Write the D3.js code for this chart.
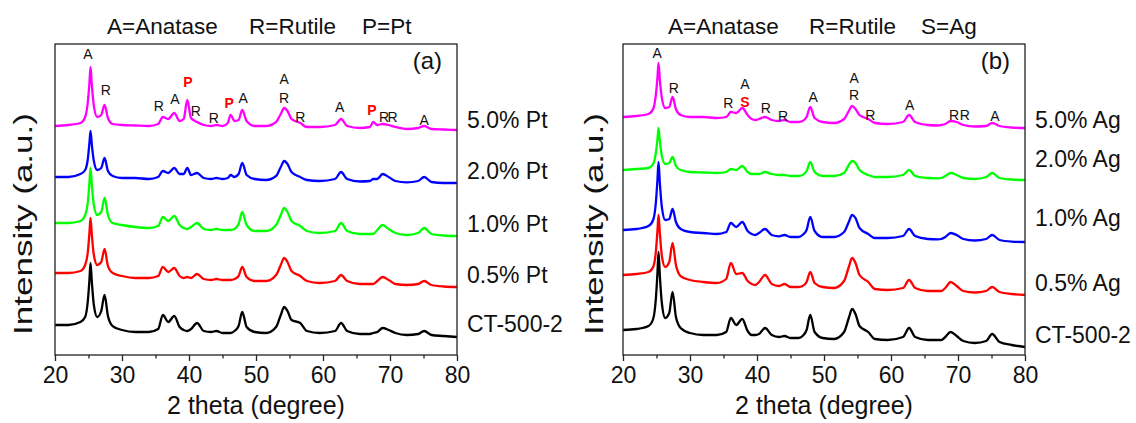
<!DOCTYPE html>
<html>
<head>
<meta charset="utf-8">
<script src="https://cdn.jsdelivr.net/npm/d3@7"></script>
<style>
  html, body { margin: 0; padding: 0; background: #ffffff; }
  svg { display: block; font-family: Arial, "Liberation Sans", Helvetica, sans-serif; }
</style>
</head>
<body>
<svg id="chart" width="1136" height="423"></svg>
<script>
// ---- XRD patterns: 2θ grid shared by every scan ----
const twoTheta = [20,22,23.8,24.5,24.9,25.15,25.3,25.5,25.8,26.3,26.9,27.4,27.9,28.6,30,32,34,35.4,36.1,36.9,37.8,38.6,39.2,39.75,40.3,41.2,42.2,43.3,44.1,45,45.8,46.2,46.8,47.4,47.95,48.6,49.8,51.5,53,53.7,54.2,54.7,55.3,56.6,57.6,59.5,61.8,62.7,63.6,65.5,67,67.5,68.1,68.9,69.8,70.8,72.5,74.2,75.1,76.2,78,80];

// Stacked intensities (a.u.), Pt series
const pt50 = [2290,2300,2320,2380,2530,2730,2880,2700,2490,2380,2400,2500,2370,2310,2300,2295,2290,2310,2380,2360,2420,2340,2360,2550,2370,2330,2300,2290,2300,2290,2320,2400,2340,2350,2450,2340,2290,2290,2330,2410,2470,2440,2360,2320,2280,2280,2300,2360,2290,2270,2280,2330,2300,2310,2300,2280,2260,2270,2290,2260,2255,2250];
const pt20 = [1780,1780,1810,1850,1960,2130,2240,2100,1940,1850,1870,1970,1840,1790,1770,1770,1760,1780,1840,1820,1870,1810,1810,1870,1800,1820,1770,1760,1770,1760,1770,1800,1780,1810,1920,1800,1760,1750,1790,1880,1940,1910,1830,1780,1750,1740,1760,1830,1760,1735,1740,1760,1760,1810,1780,1740,1727,1740,1780,1730,1720,1720];
const pt10 = [1320,1320,1340,1400,1530,1730,1870,1700,1500,1400,1430,1570,1400,1320,1300,1280,1270,1290,1380,1340,1390,1300,1270,1260,1280,1320,1260,1250,1260,1250,1250,1250,1260,1310,1430,1300,1240,1240,1300,1400,1470,1430,1340,1290,1240,1220,1240,1320,1240,1210,1210,1210,1250,1300,1260,1220,1200,1220,1270,1210,1195,1190];
const pt05 = [820,820,840,900,1030,1230,1370,1200,1000,900,930,1060,890,820,790,770,770,790,880,830,870,790,770,780,770,810,760,750,760,750,750,750,760,790,880,780,740,740,800,900,970,930,840,790,740,720,740,800,740,710,710,710,740,780,750,710,700,710,740,700,685,680];
const ctA  = [300,300,330,380,540,760,920,730,500,380,440,600,390,290,250,230,230,260,400,330,390,280,250,240,260,320,240,230,240,220,220,220,240,290,430,280,230,220,280,400,480,440,350,320,240,220,240,320,240,210,210,220,230,270,250,220,200,210,240,200,190,180];

// Stacked intensities (a.u.), Ag series
const ag50 = [2380,2390,2410,2460,2600,2780,2920,2750,2570,2470,2480,2580,2460,2400,2380,2380,2370,2380,2430,2420,2470,2400,2360,2350,2360,2380,2350,2340,2350,2330,2330,2330,2340,2380,2480,2370,2330,2320,2360,2440,2490,2460,2400,2360,2320,2310,2330,2400,2330,2300,2295,2300,2310,2340,2330,2300,2285,2290,2320,2290,2275,2270];
const ag20 = [1850,1860,1870,1910,2020,2160,2270,2140,1990,1910,1920,1980,1890,1850,1830,1825,1820,1830,1860,1850,1890,1830,1810,1810,1810,1830,1810,1800,1800,1790,1790,1790,1800,1840,1930,1830,1790,1790,1820,1900,1940,1920,1850,1800,1780,1780,1800,1850,1790,1770,1766,1770,1790,1820,1800,1770,1760,1780,1820,1770,1755,1750];
const ag10 = [1250,1260,1290,1350,1520,1760,1930,1720,1480,1350,1360,1460,1330,1260,1230,1220,1210,1230,1320,1280,1330,1240,1210,1200,1220,1260,1200,1187,1200,1180,1180,1180,1200,1250,1380,1240,1180,1180,1230,1330,1400,1370,1270,1210,1170,1170,1190,1260,1190,1160,1156,1160,1180,1220,1200,1160,1145,1160,1200,1150,1134,1130];
const ag05 = [800,810,830,880,1030,1250,1400,1220,990,880,930,1120,900,790,750,730,720,760,920,810,820,740,710,700,730,800,710,690,710,680,680,680,690,730,830,720,680,670,740,880,970,920,800,730,660,650,670,750,670,640,640,640,670,730,690,640,625,640,680,630,610,600];
const ctB  = [250,260,290,360,560,830,1030,790,520,370,420,630,380,270,220,200,200,230,370,300,360,240,200,200,210,270,200,180,190,170,170,170,190,250,400,230,170,160,230,370,460,410,290,230,160,150,180,270,180,150,150,150,180,230,190,140,120,140,210,130,100,80];

const namesPt = ["5.0% Pt", "2.0% Pt", "1.0% Pt", "0.5% Pt", "CT-500-2"];
const namesAg = ["5.0% Ag", "2.0% Ag", "1.0% Ag", "0.5% Ag", "CT-500-2"];

// Phase markers: [symbol, 2θ, intensity level]
const peaksPt = [["A",24.9,2960],["R",27.6,2600],["R",35.5,2440],["A",37.9,2510],["P",39.85,2680],["R",41.0,2390],["R",43.7,2320],["P",46.0,2470],["A",48.1,2520],["A",54.2,2710],["R",54.2,2520],["R",56.6,2330],["A",62.5,2430],["P",67.3,2400],["R",69.1,2330],["R",70.4,2330],["A",75.1,2300]];
const peaksAg = [["A",25.1,2970],["R",27.6,2620],["R",35.7,2470],["A",38.2,2660],["S",38.2,2480],["R",41.3,2420],["R",43.9,2340],["A",48.4,2530],["A",54.5,2720],["R",54.5,2550],["R",56.9,2350],["A",62.8,2450],["R",69.4,2350],["R",71.0,2350],["A",75.5,2340]];
const metalSymbols = ["P", "S"];

const thetaTicks = [20, 30, 40, 50, 60, 70, 80];
const thetaMinorTicks = [25, 35, 45, 55, 65, 75];
const thetaRange = [20, 80];
const intensityRange = [0, 3110];

// ---- layout ----
const svg = d3.select("#chart");
const frameTop = 44, frameBottom = 355;

const panels = [
  {
    left: 55, right: 457, tag: "(a)", titleGap: 23,
    header: [["A=Anatase", 107], ["R=Rutile", 249], ["P=Pt", 362]],
    names: namesPt,
    series: [pt50, pt20, pt10, pt05, ctA],
    colors: ["#ff00ff", "#0000ff", "#00ff00", "#ff0000", "#000000"],
    legendY: [128, 179, 232, 283, 332],
    peaks: peaksPt
  },
  {
    left: 623, right: 1025, tag: "(b)", titleGap: 20,
    header: [["A=Anatase", 668], ["R=Rutile", 809], ["S=Ag", 921]],
    names: namesAg,
    series: [ag50, ag20, ag10, ag05, ctB],
    colors: ["#ff00ff", "#00ff00", "#0000ff", "#ff0000", "#000000"],
    legendY: [128, 167, 226, 291, 343],
    peaks: peaksAg
  }
];

panels.forEach(p => {
  const g = svg.append("g");
  const x = d3.scaleLinear().domain(thetaRange).range([p.left, p.right]);
  const y = d3.scaleLinear().domain(intensityRange).range([frameBottom, frameTop]);

  // patterns
  const line = d3.line()
    .x((d, i) => x(twoTheta[i]))
    .y(d => y(d))
    .curve(d3.curveMonotoneX);

  p.series.forEach((vals, k) => {
    g.append("path")
      .datum(vals)
      .attr("fill", "none")
      .attr("stroke", p.colors[k])
      .attr("stroke-width", 2.3)
      .attr("stroke-linejoin", "round")
      .attr("d", line);
  });

  // frame
  g.append("rect")
    .attr("x", p.left).attr("y", frameTop)
    .attr("width", p.right - p.left).attr("height", frameBottom - frameTop)
    .attr("fill", "none").attr("stroke", "#222").attr("stroke-width", 1.3);

  // bottom axis: major + minor ticks
  const major = d3.axisBottom(x).tickValues(thetaTicks).tickSize(6).tickPadding(6).tickFormat(d3.format("d"));
  const minor = d3.axisBottom(x).tickValues(thetaMinorTicks).tickSize(3.5).tickFormat("");
  const ax = g.append("g").attr("transform", `translate(0,${frameBottom})`).call(major);
  const axm = g.append("g").attr("transform", `translate(0,${frameBottom})`).call(minor);
  [ax, axm].forEach(a => {
    a.select(".domain").remove();
    a.selectAll(".tick line").attr("stroke", "#222").attr("stroke-width", 1.3);
  });
  ax.selectAll(".tick text")
    .attr("fill", "#111")
    .style("font-size", "23px")
    .style("font-family", "Arial, 'Liberation Sans', sans-serif");

  // axis titles
  g.append("text")
    .attr("x", (p.left + p.right) / 2).attr("y", 414)
    .attr("text-anchor", "middle")
    .style("font-size", "25px").attr("fill", "#111")
    .text("2 theta (degree)");

  g.append("text")
    .attr("transform", `translate(${p.left - p.titleGap},224) rotate(-90)`)
    .attr("text-anchor", "middle")
    .attr("textLength", 222)
    .attr("lengthAdjust", "spacingAndGlyphs")
    .style("font-size", "25px").attr("fill", "#111")
    .text("Intensity (a.u.)");

  // header key
  p.header.forEach(([t, hx]) => {
    g.append("text").attr("x", hx).attr("y", 34)
      .style("font-size", "22.5px").attr("fill", "#111").text(t);
  });

  // panel tag
  g.append("text")
    .attr("x", p.right - 15).attr("y", 69)
    .attr("text-anchor", "end")
    .style("font-size", "24px").attr("fill", "#111")
    .text(p.tag);

  // series names
  p.names.forEach((n, k) => {
    g.append("text")
      .attr("x", p.right + 10).attr("y", p.legendY[k])
      .style("font-size", "23px").attr("fill", "#111")
      .text(n);
  });

  // phase markers
  p.peaks.forEach(([s, t, v]) => {
    const metal = metalSymbols.includes(s);
    g.append("text")
      .attr("x", x(t)).attr("y", y(v))
      .attr("text-anchor", "middle")
      .style("font-size", "14px")
      .style("font-weight", metal ? "bold" : "normal")
      .attr("fill", metal ? "#ff0000" : "#111")
      .text(s);
  });
});
</script>
</body>
</html>
